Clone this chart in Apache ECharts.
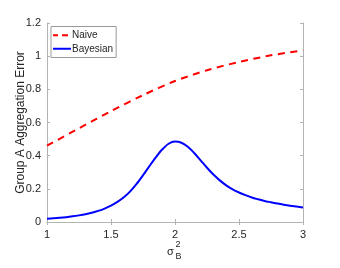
<!DOCTYPE html>
<html><head><meta charset="utf-8">
<script src="https://cdn.jsdelivr.net/npm/echarts@6/dist/echarts.min.js"></script>
<style>html,body{margin:0;padding:0;background:#fff}#c{width:340px;height:268px}</style>
</head><body><div id="c"></div>
<script>
const naiveX = [1, 1.25, 1.5, 1.75, 2, 2.25, 2.5, 2.75, 3];
const naiveY = [0.46, 0.565, 0.668, 0.765, 0.85, 0.915, 0.965, 1.005, 1.035];
const bayesX = [1.00,1.05,1.10,1.15,1.20,1.25,1.30,1.35,1.40,1.45,1.50,1.55,1.60,1.65,1.70,1.75,1.80,1.85,1.90,1.95,2.00,2.05,2.10,2.15,2.20,2.25,2.30,2.35,2.40,2.45,2.50,2.55,2.60,2.65,2.70,2.75,2.80,2.85,2.90,2.95,3.00];
const bayesY = [0.020,0.022,0.025,0.029,0.034,0.040,0.047,0.056,0.067,0.081,0.099,0.121,0.149,0.185,0.230,0.282,0.337,0.390,0.437,0.472,0.485,0.478,0.454,0.416,0.372,0.327,0.286,0.251,0.221,0.197,0.178,0.162,0.148,0.137,0.127,0.119,0.111,0.104,0.098,0.093,0.088];
const seriesNames = ['Naive', 'Bayesian'];
const yLabel = 'Group A Aggregation Error';

const FONT = 'Liberation Sans, Arial, Helvetica, sans-serif';
const axisColor = '#b3b3b3';
const txt = '#262626';
const chart = echarts.init(document.getElementById('c'), null, {renderer: 'canvas'});
const zip = (xs, ys) => xs.map((x, i) => [x, ys[i]]);
chart.setOption({
  animation: false,
  grid: {left: 47, top: 23, width: 256, height: 199, show: false},
  legend: {
    orient: 'vertical', left: 51, top: 26.5,
    itemWidth: 18, itemHeight: 2, itemGap: 2,
    padding: [3, 3, 3, 2],
    borderColor: '#9a9a9a', borderWidth: 1, backgroundColor: '#fff',
    textStyle: {fontFamily: FONT, fontSize: 10, color: txt, lineHeight: 11.5, padding: [0, 0, 0, -4]},
    data: [
      {name: seriesNames[0], icon: 'path://M0,0H5V2H0Z M9,0H15V2H9Z M18,0L18,2Z', itemStyle: {color: '#ff0000'}},
      {name: seriesNames[1], icon: 'path://M0,0H18V2H0Z', itemStyle: {color: '#0000ff'}}
    ]
  },
  xAxis: [{
    type: 'value', min: 1, max: 3, interval: 0.5,
    axisLine: {lineStyle: {color: axisColor}},
    axisTick: {inside: true, length: 3, lineStyle: {color: axisColor}},
    axisLabel: {fontFamily: FONT, fontSize: 11, color: txt, margin: 7},
    splitLine: {show: false}
  }, {
    type: 'value', min: 1, max: 3, interval: 0.5, position: 'top',
    axisLine: {show: true, lineStyle: {color: axisColor}},
    axisTick: {inside: true, length: 3, lineStyle: {color: axisColor}},
    axisLabel: {show: false}, splitLine: {show: false}
  }],
  yAxis: [{
    type: 'value', min: 0, max: 1.2, interval: 0.2,
    name: yLabel, nameLocation: 'middle', nameGap: 20, nameMoveOverlap: false,
    nameTextStyle: {fontFamily: FONT, fontSize: 12, color: txt},
    axisLine: {show: true, lineStyle: {color: axisColor}},
    axisTick: {show: true, inside: true, length: 3, lineStyle: {color: axisColor}},
    axisLabel: {fontFamily: FONT, fontSize: 11, color: txt, margin: 6},
    splitLine: {show: false}
  }, {
    type: 'value', min: 0, max: 1.2, interval: 0.2, position: 'right',
    axisLine: {show: true, lineStyle: {color: axisColor}},
    axisTick: {show: true, inside: true, length: 3, lineStyle: {color: axisColor}},
    axisLabel: {show: false}, splitLine: {show: false}
  }],
  series: [{
    name: seriesNames[0], type: 'line', data: zip(naiveX, naiveY), smooth: 0.3,
    showSymbol: false, symbol: 'none',
    lineStyle: {color: '#ff0000', width: 2, type: [7, 5.5]}, itemStyle: {color: '#ff0000'}
  }, {
    name: seriesNames[1], type: 'line', data: zip(bayesX, bayesY), smooth: 0.3,
    showSymbol: false, symbol: 'none',
    lineStyle: {color: '#0000ff', width: 2}, itemStyle: {color: '#0000ff'}
  }],
  graphic: [
    {type: 'text', left: 167, top: 246, style: {text: 'σ', font: '11px ' + FONT, fill: txt}},
    {type: 'text', left: 175.5, top: 240, style: {text: '2', font: '9px ' + FONT, fill: txt}},
    {type: 'text', left: 175.5, top: 252, style: {text: 'B', font: '9px ' + FONT, fill: txt}}
  ]
});
</script></body></html>
